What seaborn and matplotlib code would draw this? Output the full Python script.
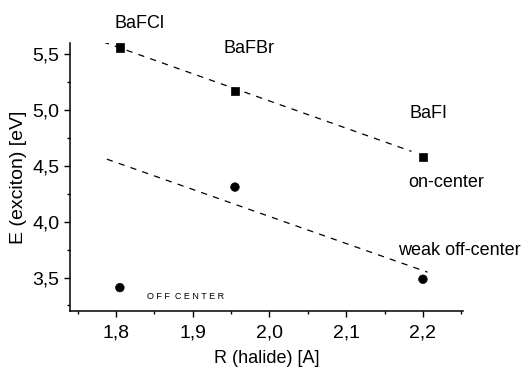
import numpy as np
import pandas as pd
import matplotlib
matplotlib.use("Agg")
import matplotlib.pyplot as plt
import seaborn as sns
from matplotlib.ticker import MultipleLocator, FuncFormatter

# halide radius vs exciton energy
r_halide = [1.805, 1.955, 2.2]
e_oncenter = [5.56, 5.17, 4.58]
e_offcenter = [3.41, 4.31, 3.485]
compounds = ["BaFCl", "BaFBr", "BaFI"]

# dashed guide lines (end points)
guide_on_x = [1.783, 2.185]
guide_on_y = [5.61, 4.63]
guide_off_x = [1.788, 2.206]
guide_off_y = [4.56, 3.548]

sns.set_style("ticks")
plt.rcParams["font.family"] = ["Liberation Sans", "DejaVu Sans"]
plt.rcParams["text.color"] = "black"
plt.rcParams["axes.labelcolor"] = "black"

fig = plt.figure(figsize=(5.28, 3.69), dpi=100)
ax = fig.add_axes([0.1326, 0.157, 0.744, 0.7265])

sns.lineplot(x=guide_on_x, y=guide_on_y, ax=ax, color="black", lw=0.9,
             linestyle=(0, (5, 5)))
sns.lineplot(x=guide_off_x, y=guide_off_y, ax=ax, color="black", lw=0.9,
             linestyle=(0, (5, 5)))

pts = pd.DataFrame({"R": r_halide * 2,
                    "E": e_oncenter + e_offcenter,
                    "kind": ["on"] * 3 + ["off"] * 3})
sns.scatterplot(data=pts, x="R", y="E", style="kind",
                markers={"on": "s", "off": "o"}, color="black", s=38,
                edgecolor="black", legend=False, ax=ax)

ax.set_xlim(1.74, 2.252)
ax.set_ylim(3.2, 5.6)
ax.xaxis.set_major_locator(MultipleLocator(0.1))
ax.xaxis.set_minor_locator(MultipleLocator(0.05))
ax.yaxis.set_major_locator(MultipleLocator(0.5))
ax.yaxis.set_minor_locator(MultipleLocator(0.25))
ax.xaxis.set_major_formatter(FuncFormatter(lambda v, p: f"{v:.1f}".replace(".", ",")))
ax.yaxis.set_major_formatter(FuncFormatter(lambda v, p: f"{v:.1f}".replace(".", ",")))
ax.tick_params(which="major", length=4, width=1, labelsize=14, colors="black")
ax.tick_params(axis="x", which="major", pad=6)
ax.tick_params(which="minor", length=2.5, width=1, colors="black")
for s in ["left", "bottom"]:
    ax.spines[s].set_linewidth(1.1)
    ax.spines[s].set_color("black")
sns.despine(ax=ax)

ax.set_ylabel("E (exciton) [eV]", fontsize=14, labelpad=4)
ax.set_xlabel("R (halide) [A]", fontsize=13, labelpad=6)

ax.text(1.83, 5.77, compounds[0], fontsize=13, ha="center", va="center")
ax.text(1.973, 5.55, compounds[1], fontsize=13, ha="center", va="center")
ax.text(2.207, 4.97, compounds[2], fontsize=13, ha="center", va="center")
ax.text(2.23, 4.35, "on-center", fontsize=13, ha="center", va="center")
ax.text(2.248, 3.74, "weak off-center", fontsize=13, ha="center", va="center")
ax.text(1.89, 3.33, "O F F  C E N T E R", fontsize=6.5, ha="center", va="center")

fig.savefig("out.png", dpi=100)
